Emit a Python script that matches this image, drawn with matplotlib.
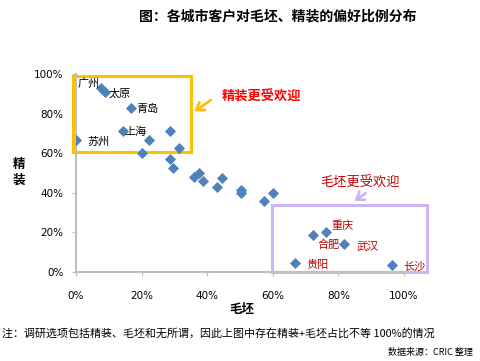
import matplotlib
matplotlib.use("Agg")
import matplotlib.pyplot as plt
from matplotlib.patches import Rectangle
from matplotlib.ticker import PercentFormatter

plt.rcParams["font.family"] = ["Noto Sans CJK SC", "DejaVu Sans"]

# --- data (percent) ---
named_cities = ["广州", "太原", "青岛", "上海", "苏州", "重庆", "合肥", "武汉", "贵阳", "长沙"]
named_mao = [7.6, 8.8, 16.8, 14.3, 0.0, 76.2, 72.3, 81.7, 66.8, 96.3]
named_jing = [93.0, 91.0, 83.0, 71.0, 66.7, 20.2, 18.7, 14.1, 4.5, 3.5]

other_mao = [28.7, 22.3, 31.4, 20.0, 28.7, 29.6, 36.0, 37.5, 38.7, 43.0,
             44.5, 50.3, 50.3, 57.3, 60.0]
other_jing = [71.0, 66.7, 62.6, 60.0, 57.0, 52.5, 48.0, 50.0, 46.0, 43.0,
              47.5, 41.4, 39.9, 35.9, 39.9]

x_ticks = [0, 20, 40, 60, 80, 100]
y_ticks = [0, 20, 40, 60, 80, 100]

# label offsets in points, and colours (top box black, bottom box dark red)
label_offsets = [(-9, 3), (11, -1), (12, -1), (9, 0), (16, -1),
                 (12, 4), (11, -7), (17, -2), (16, -1), (16, -1)]
label_colors = ["black"] * 5 + ["#C00000"] * 5

BLUE = "#4F81BD"
ORANGE = "#FFC000"
PURPLE = "#CDB5F5"
GRAY = "#BFBFBF"

fig = plt.figure(figsize=(4.8, 3.61), dpi=100)
ax = fig.add_axes([76 / 480, 89 / 361, 328 / 480, 198 / 361])

ax.scatter(other_mao, other_jing, marker="D", s=32, color=BLUE, linewidths=0, zorder=3)
ax.scatter(named_mao, named_jing, marker="D", s=32, color=BLUE, linewidths=0, zorder=3)

for name, xv, yv, off, c in zip(named_cities, named_mao, named_jing, label_offsets, label_colors):
    ax.annotate(name, (xv, yv), xytext=off, textcoords="offset points",
                ha="center", va="center", fontsize=8, color=c, zorder=4,
                annotation_clip=False)

ax.set_xlim(0, 100)
ax.set_ylim(0, 100)
ax.set_xticks(x_ticks)
ax.set_yticks(y_ticks)
ax.xaxis.set_major_formatter(PercentFormatter(decimals=0))
ax.yaxis.set_major_formatter(PercentFormatter(decimals=0))
ax.tick_params(axis="x", length=3, pad=11, color=GRAY, labelsize=7.5)
ax.tick_params(axis="y", length=3, pad=6, color=GRAY, labelsize=7.5)
for lab in ax.get_xticklabels() + ax.get_yticklabels():
    lab.set_family("DejaVu Sans")
for side in ["top", "right"]:
    ax.spines[side].set_visible(False)
for side in ["left", "bottom"]:
    ax.spines[side].set_color(GRAY)
    ax.spines[side].set_linewidth(1.5)

# highlight boxes
ax.add_patch(Rectangle((-0.9, 60.6), 35.9, 38.4, fill=False, edgecolor=ORANGE,
                       linewidth=2.2, clip_on=False, zorder=2))
ax.add_patch(Rectangle((59.8, 0), 47.2, 33.8, fill=False, edgecolor=PURPLE,
                       linewidth=2.2, clip_on=False, zorder=2))

ax.annotate("", xy=(35.4, 80.3), xytext=(41.8, 87.6),
            arrowprops=dict(arrowstyle="->,head_length=0.5,head_width=0.35",
                            color=ORANGE, lw=2), annotation_clip=False)
ax.text(44.5, 88.4, "精装更受欢迎", fontsize=9.5, fontweight="bold", color="#FF0000",
        va="center", ha="left")

ax.annotate("", xy=(84.2, 35.0), xytext=(89.0, 40.6),
            arrowprops=dict(arrowstyle="->,head_length=0.5,head_width=0.35",
                            color=PURPLE, lw=2), annotation_clip=False)
ax.text(74.4, 44.9, "毛坯更受欢迎", fontsize=9.5, color="#C00000",
        va="center", ha="left")

fig.text(277.5 / 480, 1 - 16 / 361, "图：各城市客户对毛坯、精装的偏好比例分布",
         ha="center", va="center", fontsize=10, fontweight="bold")
fig.text(242 / 480, 1 - 309 / 361, "毛坯", ha="center", va="center",
         fontsize=9, fontweight="bold")
fig.text(19 / 480, 1 - 172 / 361, "精\n装", ha="center", va="center",
         fontsize=9, fontweight="bold", linespacing=1.3)
fig.text(2 / 480, 1 - 333 / 361,
         "注：调研选项包括精装、毛坯和无所谓，因此上图中存在精装+毛坯占比不等 100%的情况",
         ha="left", va="center", fontsize=7.9)
fig.text(473 / 480, 1 - 352 / 361, "数据来源：CRIC 整理", ha="right", va="center",
         fontsize=6.5)

fig.savefig("out.png", dpi=100)
